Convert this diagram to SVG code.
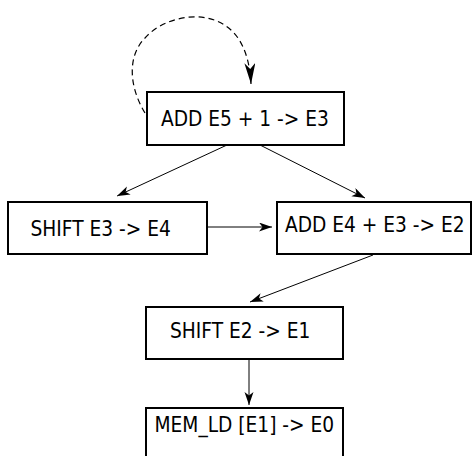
<svg xmlns="http://www.w3.org/2000/svg" width="472" height="456" viewBox="0 0 472 456">
<style>
.box{fill:#fff;stroke:#000;stroke-width:2}
.lbl{font-family:"DejaVu Sans Condensed","DejaVu Sans",sans-serif;font-stretch:condensed;font-size:20.7px;fill:#000}
.edge{fill:none;stroke:#000;stroke-width:1}
.loop{fill:none;stroke:#000;stroke-width:1.2;stroke-dasharray:6 4}
</style>
<defs>
<marker id="ah" markerUnits="userSpaceOnUse" markerWidth="14" markerHeight="10" refX="13" refY="4.5" orient="auto">
<path d="M0,0 L13,4.5 L0,9 L3.5,4.5 z" fill="#000"/>
</marker>
<marker id="ahbig" markerUnits="userSpaceOnUse" markerWidth="22" markerHeight="12" refX="21" refY="5.5" orient="auto">
<path d="M0,0 L21,5.5 L0,11 L6,5.5 z" fill="#000"/>
</marker>
</defs>
<g id="connectors">
<path class="loop" d="M145,113 C128,85 128,55 145,38 C165,15 215,5 238,38 C246,50 250,65 251,84" marker-end="url(#ahbig)"/>
<line class="edge" x1="227" y1="145" x2="117" y2="196" marker-end="url(#ah)"/>
<line class="edge" x1="260" y1="145" x2="365" y2="198" marker-end="url(#ah)"/>
<line class="edge" x1="207" y1="227" x2="272" y2="227" marker-end="url(#ah)"/>
<line class="edge" x1="373" y1="255" x2="250" y2="302" marker-end="url(#ah)"/>
<line class="edge" x1="249" y1="359" x2="249" y2="405" marker-end="url(#ah)"/>
</g>
<g id="n1">
<rect class="box" x="147" y="92" width="197" height="53"/>
<text class="lbl" x="161" y="126">ADD E5 + 1 -&gt; E3</text>
</g>
<g id="n2">
<rect class="box" x="8" y="202" width="199" height="52"/>
<text class="lbl" x="30.5" y="235.5">SHIFT E3 -&gt; E4</text>
</g>
<g id="n3">
<rect class="box" x="277" y="202" width="194" height="52"/>
<text class="lbl" x="285" y="232">ADD E4 + E3 -&gt; E2</text>
</g>
<g id="n4">
<rect class="box" x="146" y="307" width="197" height="52"/>
<text class="lbl" x="170" y="338">SHIFT E2 -&gt; E1</text>
</g>
<g id="n5">
<rect class="box" x="146" y="408" width="197" height="60"/>
<text class="lbl" x="154.5" y="432">MEM_LD [E1] -&gt; E0</text>
</g>
</svg>
